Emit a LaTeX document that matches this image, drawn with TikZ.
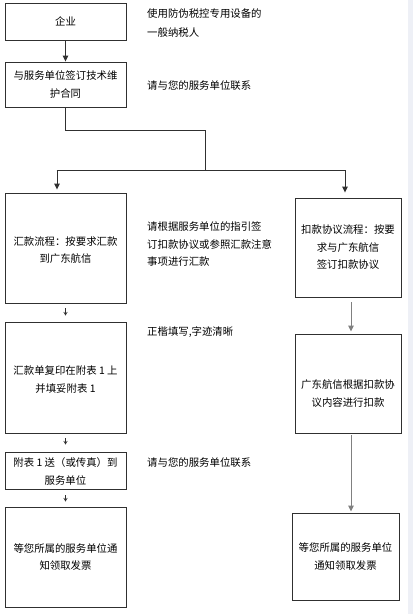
\documentclass[tikz,border=0pt]{standalone}
\usepackage{fontspec}
\setmainfont{Noto Sans CJK SC}
\usetikzlibrary{arrows.meta}
\definecolor{stripbg}{HTML}{EEF0F6}
\definecolor{linec}{HTML}{303030}
\definecolor{greyline}{HTML}{808080}
\begin{document}
\begin{tikzpicture}[x=1pt,y=-1pt,
  txt/.style={font=\fontsize{10.4}{17.5}\selectfont, text=black},
  box/.style={txt, draw=linec, line width=0.9pt, inner sep=0pt, align=center},
  lbl/.style={txt, anchor=west, align=left, inner sep=0pt},
  arr/.style={-{Triangle[length=6pt,width=5.5pt]}, line width=0.9pt, draw=linec},
  garr/.style={-{Triangle[length=6pt,width=5.5pt]}, line width=1pt, draw=greyline},
  sarr/.style={-{Straight Barb[length=3pt,width=3.5pt]}, line width=0.6pt, draw=linec},
  conn/.style={line width=0.9pt, draw=linec}]
\fill[white] (0,0) rectangle (413,614);
\fill[stripbg] (408,0) rectangle (413,614);
\useasboundingbox (0,0) rectangle (413,614);

% left column
\node[box, minimum width=121pt, minimum height=37pt] (n1) at (65.5,21.5) {企业};
\node[box, minimum width=121pt, minimum height=45pt] (n2) at (65.5,84.5) {与服务单位签订技术维\\护合同};
\node[box, minimum width=121pt, minimum height=110pt] (n3) at (65.5,248) {\rule{0pt}{13pt}汇款流程：按要求汇款\\到广东航信};
\node[box, minimum width=121pt, minimum height=111pt] (n4) at (65.5,377.5) {\rule{0pt}{13pt}汇款单复印在附表 1 上\\并填妥附表 1};
\node[box, minimum width=121pt, minimum height=37pt] (n5) at (65.5,470.5) {\rule{0pt}{11pt}附表 1 送（或传真）到\\服务单位};
\node[box, minimum width=121pt, minimum height=100pt] (n6) at (65.5,557) {等您所属的服务单位通\\知领取发票};

% right column
\node[box, minimum width=106pt, minimum height=99pt] (r1) at (348,247.5) {扣款协议流程：按要\\求与广东航信\\签订扣款协议};
\node[box, minimum width=106pt, minimum height=99pt] (r2) at (348,383.5) {\rule{0pt}{29pt}广东航信根据扣款协\\议内容进行扣款};
\node[box, minimum width=107pt, minimum height=87pt] (r3) at (345.5,556.5) {等您所属的服务单位\\通知领取发票};

% side labels
\node[lbl] (l1) at (147,23.5) {使用防伪税控专用设备的\\[1.5pt]一般纳税人};
\node[lbl] (l2) at (147,86) {请与您的服务单位联系};
\node[lbl] (l3) at (147,244.5) {请根据服务单位的指引签\\订扣款协议或参照汇款注意\\事项进行汇款};
\node[lbl] (l4) at (147,332) {正楷填写,字迹清晰};
\node[lbl] (l5) at (147,463) {请与您的服务单位联系};

% connectors
\coordinate (j2) at (205,130);
\coordinate (j3) at (205,170);
\coordinate (jl) at (57,170);
\coordinate (jr) at (345,170);
\draw[arr] (n1) -- (n2);
\draw[conn] (n2.south) |- (j2) -- (j3);
\draw[conn] ([xshift=-0.45pt]jl) -- ([xshift=0.45pt]jr);
\draw[arr, shorten >=3pt] (jl) -- (jl |- n3.north);
\draw[arr, shorten >=5pt] (jr) -- (jr |- r1.north);

\draw[sarr, shorten <=5pt, shorten >=6pt] (n3) -- (n4);
\draw[sarr, shorten <=5pt, shorten >=7pt] (n4) -- (n5);
\draw[sarr, shorten <=6pt, shorten >=5pt] (n5) -- (n6);

\coordinate (g1) at (351,297);
\draw[garr, shorten <=5pt, shorten >=2pt] (r1.south -| g1) -- (r2.north -| g1);
\draw[garr, shorten <=2pt, shorten >=1pt] (r2.south -| g1) -- (r3.north -| g1);
\end{tikzpicture}
\end{document}
